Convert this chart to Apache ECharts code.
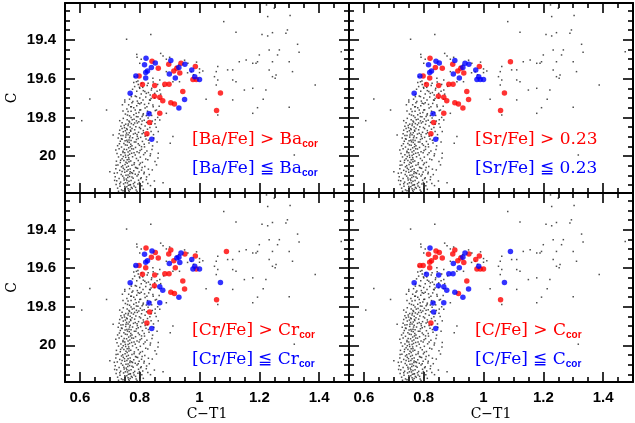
<!DOCTYPE html>
<html><head><meta charset="utf-8">
<script src="https://cdn.jsdelivr.net/npm/echarts@6/dist/echarts.min.js"></script>
<style>html,body{margin:0;padding:0;background:#fff}#c{width:635px;height:423px}</style>
</head><body><div id="c"></div>
<script>
// ---------- DATA ----------
const xTicksMajor = [0.6, 0.8, 1.0, 1.2, 1.4];
const xTicksMinor = [0.55,0.65,0.7,0.75,0.85,0.9,0.95,1.05,1.1,1.15,1.25,1.3,1.35,1.45];
const yTicksMajor = [19.4, 19.6, 19.8, 20.0];
const yTicksMinor = [19.25,19.3,19.35,19.45,19.5,19.55,19.65,19.7,19.75,19.85,19.9,19.95,20.05,20.1,20.15];
const xRange = [0.55, 1.5];
const yRange = [19.21, 20.19];

// photometric field stars (C-T1, C)
const field = [
[0.756,19.397],[0.837,19.372],[1.081,19.306],[1.122,19.361],[1.224,19.220],[1.228,19.280],[1.250,19.237],[1.303,19.275],
[1.294,19.349],[1.244,19.363],[1.209,19.372],[1.328,19.423],[1.333,19.464],[1.233,19.452],[1.267,19.452],[1.261,19.478],
[1.244,19.513],[1.300,19.513],[1.233,19.555],[1.256,19.581],[1.253,19.598],[1.133,19.513],[1.178,19.521],[1.111,19.555],
[1.061,19.538],[1.056,19.564],[1.050,19.590],[1.061,19.607],[1.056,19.633],[1.111,19.607],[1.122,19.616],[1.150,19.659],
[1.178,19.650],[1.222,19.659],[1.387,19.633],[1.022,19.707],[1.111,19.710],[1.213,19.707],[1.194,19.750],[1.178,19.779],
[1.300,19.748],[1.061,19.788],[0.689,19.762],[0.633,19.705],[0.606,19.817],[0.711,19.891],[0.911,19.899],[0.902,19.934],
[0.700,20.080],[0.878,20.137],[1.317,19.994],[1.228,19.380],[1.289,19.366],[1.311,19.564],[1.200,19.478],[1.189,19.521],
[1.244,19.590],[1.094,19.555],[1.156,19.504],[1.194,19.513],[1.474,19.462],
[0.791,19.490],[0.800,19.521],[0.878,19.483],[0.889,19.500],[0.789,19.616],[0.806,19.624],[0.844,19.598],[0.867,19.607],
[0.889,19.564],[0.922,19.538],[0.961,19.521],[0.972,19.564],[1.000,19.569],[1.011,19.561],[0.911,19.616],[0.933,19.616],
[0.867,19.659],[0.839,19.659],[0.822,19.676],[0.800,19.650],[0.811,19.710],[0.789,19.693],[0.824,19.745],[0.844,19.736],
[0.856,19.762],[0.800,19.762],[0.789,19.796],[0.867,19.813],[0.889,19.779],
[0.783,19.641],[0.817,19.667],[0.795,19.727],[0.772,19.745],[0.761,19.770],[0.750,19.710],[0.811,19.788],[0.833,19.710],
[0.850,19.676],[0.828,19.624],[0.772,19.693],[0.783,19.590],
[0.750,19.720],[0.763,19.735],[0.777,19.718],[0.790,19.740],[0.805,19.725],[0.818,19.752],[0.830,19.728],[0.845,19.745],
[0.757,19.757],[0.771,19.768],[0.785,19.762],[0.797,19.775],[0.812,19.781],[0.826,19.768],[0.840,19.790],[0.752,19.783],
[0.766,19.792],[0.780,19.787],[0.794,19.797],[0.808,19.795],[0.822,19.791],[0.836,19.775],[0.860,19.800],[0.766,19.706],
[0.780,19.750],[0.800,19.730],[0.770,19.745],
[0.780,19.620],[0.795,19.630],[0.810,19.645],[0.825,19.635],[0.840,19.650],[0.790,19.665],[0.805,19.680],[0.820,19.695],
[0.835,19.685],[0.850,19.700],[0.785,19.690],[0.800,19.700],[0.870,19.680],[0.860,19.630],[0.880,19.640],
[0.790,19.475],[0.805,19.500],[0.870,19.470],[0.900,19.490],[0.950,19.505],[0.990,19.515],[0.930,19.530],[1.000,19.550],
[0.960,19.570],[0.980,19.580],
[0.745,19.805],[0.758,19.812],[0.771,19.801],[0.789,19.818],[0.802,19.808],[0.815,19.815],[0.828,19.803],[0.842,19.819],[0.764,19.819],[0.781,19.809],
[0.741,19.828],[0.753,19.835],[0.766,19.824],[0.779,19.838],[0.792,19.829],[0.806,19.836],[0.823,19.826],[0.851,19.833],[0.772,19.832],[0.797,19.822],
[0.737,19.846],[0.749,19.853],[0.761,19.842],[0.774,19.857],[0.787,19.848],[0.803,19.858],[0.818,19.844],[0.834,19.852],[0.768,19.849],[0.756,19.858],
[0.733,19.866],[0.745,19.874],[0.758,19.862],[0.770,19.871],[0.783,19.864],[0.796,19.877],[0.812,19.868],[0.838,19.873],[0.765,19.879],[0.752,19.869],
[0.731,19.885],[0.744,19.893],[0.756,19.881],[0.768,19.896],[0.779,19.886],[0.792,19.898],[0.808,19.884],[0.826,19.893],[0.761,19.889],[0.785,19.882],
[0.728,19.906],[0.741,19.913],[0.753,19.902],[0.764,19.917],[0.776,19.905],[0.789,19.914],[0.803,19.903],[0.821,19.911],[0.847,19.906],[0.771,19.919],[0.757,19.918],
[0.735,19.923],[0.747,19.935],[0.759,19.926],[0.770,19.938],[0.782,19.927],[0.795,19.936],[0.809,19.924],[0.831,19.932],[0.765,19.929],[0.751,19.921],
[0.726,19.946],[0.739,19.953],[0.752,19.942],[0.763,19.957],[0.774,19.946],[0.786,19.955],[0.799,19.944],[0.816,19.952],[0.843,19.947],[0.769,19.951],
[0.731,19.962],[0.744,19.975],[0.756,19.966],[0.767,19.972],[0.779,19.963],[0.791,19.977],[0.806,19.965],[0.824,19.973],[0.761,19.978],[0.748,19.964],
[0.724,19.986],[0.737,19.993],[0.750,19.982],[0.761,19.996],[0.773,19.985],[0.785,19.994],[0.798,19.983],[0.813,19.992],[0.836,19.988],[0.766,19.990],
[0.729,20.004],[0.741,20.013],[0.753,20.006],[0.764,20.017],[0.776,20.003],[0.789,20.012],[0.802,20.005],[0.820,20.015],[0.758,20.018],[0.745,20.002],
[0.722,20.026],[0.735,20.033],[0.747,20.022],[0.758,20.037],[0.770,20.025],[0.782,20.034],[0.795,20.023],[0.809,20.032],[0.851,20.028],[0.764,20.029],
[0.727,20.046],[0.739,20.055],[0.751,20.043],[0.762,20.052],[0.774,20.047],[0.786,20.058],[0.799,20.044],[0.817,20.053],[0.756,20.057],[0.743,20.049],
[0.720,20.065],[0.733,20.073],[0.745,20.062],[0.757,20.078],[0.768,20.066],[0.780,20.075],[0.793,20.063],[0.806,20.072],[0.829,20.067],[0.761,20.070],
[0.725,20.086],[0.738,20.094],[0.750,20.083],[0.761,20.097],[0.773,20.085],[0.785,20.093],[0.798,20.082],[0.814,20.091],[0.754,20.098],[0.767,20.089],
[0.718,20.106],[0.731,20.115],[0.743,20.103],[0.755,20.118],[0.766,20.105],[0.778,20.114],[0.791,20.102],[0.805,20.111],[0.823,20.107],[0.760,20.110],
[0.723,20.127],[0.736,20.134],[0.748,20.123],[0.759,20.138],[0.771,20.126],[0.783,20.135],[0.796,20.124],[0.810,20.133],[0.764,20.130],[0.752,20.137],
[0.721,20.146],[0.734,20.155],[0.746,20.143],[0.757,20.158],[0.769,20.147],[0.781,20.154],[0.794,20.144],[0.807,20.152],[0.762,20.150],[0.750,20.157],[0.767,20.149],
[0.726,20.165],[0.739,20.174],[0.751,20.163],[0.763,20.177],[0.775,20.166],[0.788,20.175],[0.800,20.168],[0.768,20.172],
[0.852,19.812],[0.838,19.836],[0.826,19.861],[0.813,19.879],[0.799,19.852],[0.783,19.829],[0.769,19.866],[0.754,19.891],[0.741,19.857],[0.733,19.817],
[0.862,19.873],[0.846,19.889],[0.818,19.897],[0.791,19.888],[0.775,19.812],[0.748,19.842],[0.737,19.894],[0.855,19.851],[0.808,19.818],[0.762,19.834],
[0.858,19.927],[0.841,19.965],[0.829,19.918],[0.815,19.938],[0.801,19.971],[0.787,19.927],[0.773,19.962],[0.758,19.944],[0.744,19.981],[0.732,19.936],
[0.720,19.968],[0.835,19.998],[0.818,19.982],[0.795,19.909],[0.781,19.982],[0.766,19.905],[0.752,19.995],[0.739,19.910],[0.862,19.985],[0.806,19.951],
[0.856,20.045],[0.842,20.071],[0.827,20.019],[0.815,20.083],[0.802,20.036],[0.789,20.061],[0.776,20.089],[0.763,20.008],[0.749,20.069],[0.736,20.021],
[0.721,20.047],[0.715,20.088],[0.832,20.095],[0.808,20.058],[0.795,20.095],[0.781,20.043],[0.768,20.081],[0.754,20.031],[0.741,20.079],[0.861,20.009],
[0.849,20.128],[0.836,20.152],[0.822,20.121],[0.812,20.171],[0.799,20.136],[0.786,20.161],[0.774,20.108],[0.761,20.168],[0.747,20.113],[0.733,20.142],
[0.716,20.125],[0.729,20.181],[0.827,20.141],[0.803,20.116],[0.791,20.182],[0.779,20.142],[0.757,20.126],[0.744,20.178],[0.772,20.161],[0.765,20.184],
[0.742,19.735],[0.759,19.788],[0.774,19.724],[0.788,19.779],[0.803,19.761],[0.816,19.733],[0.829,19.781],[0.852,19.765],[0.865,19.742],[0.744,19.767],
[0.792,19.716],[0.835,19.712],
[0.776,19.655],[0.794,19.612],[0.812,19.662],[0.829,19.672],[0.845,19.618],[0.858,19.665],[0.772,19.682],[0.838,19.703],[0.866,19.706],[0.799,19.645]
];

// spectroscopic targets (C-T1, C)
const stars = [
[0.821,19.495],[0.841,19.511],[0.852,19.519],[0.816,19.528],[0.839,19.543],[0.826,19.561],[0.820,19.569],[0.862,19.547],
[0.897,19.526],[0.904,19.506],[0.938,19.521],[0.951,19.526],[0.924,19.547],[0.931,19.543],[0.914,19.561],[0.899,19.576],
[0.934,19.571],[0.919,19.597],[0.986,19.537],[0.974,19.555],[0.984,19.590],[0.978,19.604],[0.989,19.604],[1.000,19.604],
[1.090,19.513],[0.798,19.586],[0.787,19.586],[0.820,19.597],[0.809,19.631],[0.850,19.635],[0.884,19.629],[0.898,19.629],
[0.944,19.666],[1.070,19.674],[0.768,19.676],[0.849,19.691],[0.867,19.696],[0.877,19.714],[0.904,19.724],[0.916,19.731],
[0.950,19.708],[0.931,19.751],[1.057,19.764],[0.831,19.781],[0.867,19.779],[0.833,19.827],[0.824,19.884],[0.840,19.913]
];
// 1 = above threshold (red), 0 = at/below threshold (blue), -1 = not measured
const baFlag = [0,1,0,0,0,0,0,1,1,0,1,0,1,0,1,0,1,0,1,0,0,1,1,0,-1,1,0,0,1,1,1,1,1,1,0,1,1,1,1,1,0,0,1,0,1,1,1,0];
const srFlag = [1,0,0,0,1,0,0,1,1,0,0,0,1,0,1,0,1,0,1,0,0,0,0,0,1,1,0,1,1,1,1,1,1,1,0,1,1,1,1,1,1,1,1,0,1,1,1,0];
const crFlag = [1,0,1,0,1,0,0,1,1,1,0,1,0,0,1,0,0,1,1,0,0,0,1,0,1,1,0,1,1,1,1,1,1,0,0,1,0,0,1,1,1,0,1,0,0,1,1,0];
const cFlag  = [0,1,1,1,1,1,1,1,1,1,0,1,1,0,1,0,1,0,1,1,0,1,1,1,0,1,1,1,0,0,0,0,1,0,0,0,0,0,0,1,0,0,1,0,0,0,1,0];

const panels = [
  {flags: baFlag, hi: ['[Ba/Fe] > Ba', 'cor'], lo: ['[Ba/Fe] ≦ Ba', 'cor']},
  {flags: srFlag, hi: ['[Sr/Fe] > 0.23', ''],  lo: ['[Sr/Fe] ≦ 0.23', '']},
  {flags: crFlag, hi: ['[Cr/Fe] > Cr', 'cor'], lo: ['[Cr/Fe] ≦ Cr', 'cor']},
  {flags: cFlag,  hi: ['[C/Fe] > C', 'cor'],   lo: ['[C/Fe] ≦ C', 'cor']}
];
const xName = 'C−T1';
const yName = 'C';

// ---------- LAYOUT ----------
const grids = [
  {left: 65, top: 3, width: 284, height: 190},
  {left: 349, top: 3, width: 284, height: 190},
  {left: 65, top: 193, width: 284, height: 189},
  {left: 349, top: 193, width: 284, height: 189}
];
const textPos = [
  {x: 192, y1: 131, y2: 160},
  {x: 475, y1: 131, y2: 160},
  {x: 192, y1: 322, y2: 351},
  {x: 475, y1: 322, y2: 351}
];
const RED = '#ff0000', BLUE = '#0000ff';
const tickFont = {color: '#000', fontFamily: 'Liberation Sans', fontWeight: 'bold', fontSize: 15};

const xAxis = [], yAxis = [], series = [], graphic = [];
grids.forEach((g, i) => {
  const showX = i >= 2, showY = i % 2 === 0;
  const mk = (dim, pos, major, first) => {
    const o = {
      type: 'value', gridIndex: i, position: pos,
      min: dim === 'x' ? xRange[0] : yRange[0],
      max: dim === 'x' ? xRange[1] : yRange[1],
      inverse: dim === 'y',
      splitLine: {show: false},
      axisLine: {show: first, onZero: false, lineStyle: {color: '#000', width: 2}},
      axisTick: {show: true, inside: true, length: major ? 10 : 5,
        customValues: dim === 'x' ? (major ? xTicksMajor : xTicksMinor) : (major ? yTicksMajor : yTicksMinor),
        lineStyle: {color: '#000', width: 1.6}},
      axisLabel: {show: false},
      silent: true
    };
    if (first && ((dim === 'x' && pos === 'bottom' && showX) || (dim === 'y' && pos === 'left' && showY))) {
      o.axisLabel = Object.assign({show: true, customValues: dim === 'x' ? xTicksMajor : yTicksMajor,
        margin: dim === 'x' ? 8 : 9}, tickFont);
      o.name = dim === 'x' ? xName : yName;
      o.nameLocation = 'middle';
      o.nameGap = dim === 'x' ? 25 : 46;
      o.nameMoveOverlap = false;
      o.nameTextStyle = {color: '#000', fontFamily: 'DejaVu Serif', fontSize: 14};
    }
    return o;
  };
  ['bottom', 'top'].forEach(p => { xAxis.push(mk('x', p, true, true)); xAxis.push(mk('x', p, false, false)); });
  ['left', 'right'].forEach(p => { yAxis.push(mk('y', p, true, true)); yAxis.push(mk('y', p, false, false)); });
  const ax = xAxis.length - 4, ay = yAxis.length - 4;
  series.push({type: 'scatter', xAxisIndex: ax, yAxisIndex: ay, data: field, symbol: 'rect',
    symbolSize: 1.5, itemStyle: {color: '#222'}, silent: true, animation: false});
  const fl = panels[i].flags;
  series.push({type: 'scatter', xAxisIndex: ax, yAxisIndex: ay, symbolSize: 5.5,
    data: stars.filter((s, k) => fl[k] === 1), itemStyle: {color: RED}, silent: true, animation: false});
  series.push({type: 'scatter', xAxisIndex: ax, yAxisIndex: ay, symbolSize: 5.5,
    data: stars.filter((s, k) => fl[k] === 0), itemStyle: {color: BLUE}, silent: true, animation: false});
  const tp = textPos[i];
  [[panels[i].hi, RED, tp.y1], [panels[i].lo, BLUE, tp.y2]].forEach(([t, col, y]) => {
    graphic.push({type: 'text', left: tp.x, top: y, silent: true, style: {
      text: '{a|' + t[0] + '}' + (t[1] ? '{s|' + t[1] + '}' : ''),
      rich: {
        a: {fill: col, fontFamily: 'DejaVu Serif', fontSize: 17, lineHeight: 20, verticalAlign: 'middle'},
        s: {fill: col, fontFamily: 'Liberation Sans', fontWeight: 'bold', fontSize: 10, lineHeight: 4, verticalAlign: 'bottom'}
      }
    }});
  });
});

const chart = echarts.init(document.getElementById('c'), null, {renderer: 'canvas'});
chart.setOption({
  animation: false,
  backgroundColor: '#fff',
  grid: grids.map(g => Object.assign({containLabel: false}, g)),
  xAxis, yAxis, series, graphic
});
</script></body></html>
